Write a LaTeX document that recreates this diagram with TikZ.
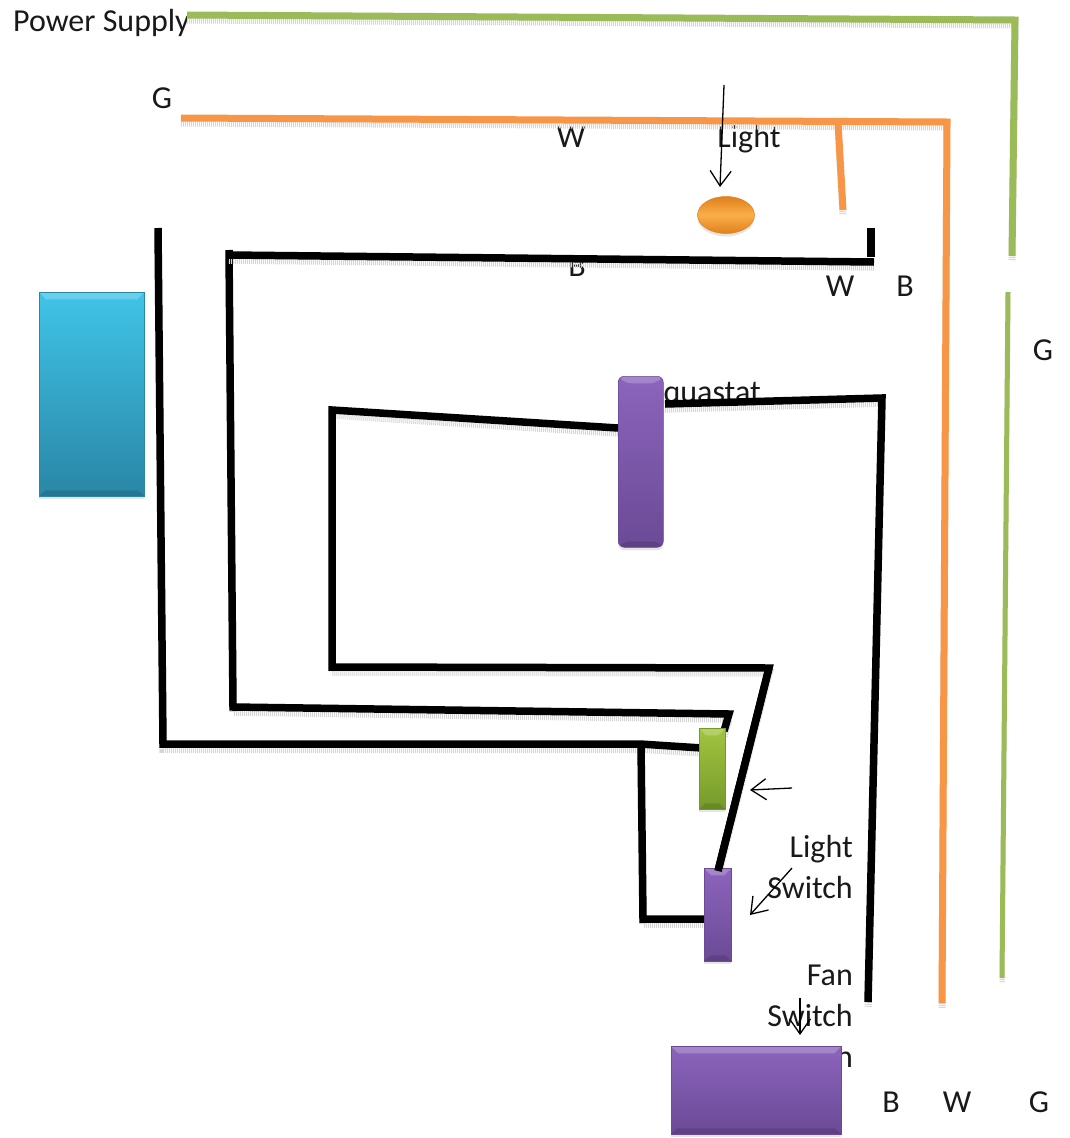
\documentclass[tikz,border=0pt]{standalone}
\usepackage{fontspec}
\setmainfont{Carlito}
\usetikzlibrary{arrows.meta,calc,shapes.geometric}
\definecolor{wgreen}{HTML}{9BBB59}
\definecolor{worange}{HTML}{F79646}
\definecolor{blueT}{HTML}{3FC4E8}
\definecolor{blueB}{HTML}{2A86A6}
\definecolor{purpT}{HTML}{8C64BC}
\definecolor{purpB}{HTML}{6B4A96}
\definecolor{grnT}{HTML}{A2C440}
\definecolor{grnB}{HTML}{769A2A}
\definecolor{ornT}{HTML}{FAAE48}
\definecolor{ornB}{HTML}{E0801C}
\tikzset{
  x=1pt,y=-1pt,
  wire/.style={line width=#1,line join=miter,preaction={draw=black!16,line width=#1,dash pattern=on 1pt off 1pt,transform canvas={yshift=-5pt}}},
  blackwire/.style={wire=7.5pt,draw=black},
  blackstub/.style={line width=7.5pt,draw=black},
  orangewire/.style={wire=7pt,draw=worange},
  greenwire/.style={wire=7pt,draw=wgreen},
  greenthin/.style={wire=5pt,draw=wgreen},
  pointer/.style={draw=black,line width=1.3pt,-{Straight Barb[length=15pt,width=21pt,line width=1.3pt]}},
  lab/.style={font=\fontsize{32}{32}\selectfont,text=black!90,inner sep=0pt,text height=20pt,text depth=6pt},
  multi/.style={font=\fontsize{32}{41}\selectfont,text=black!90,inner sep=0pt,align=right,anchor=east},
  bevelbox/.style 2 args={draw=#2,line width=.5pt,top color=#1,bottom color=#2,inner sep=0pt,anchor=north west,
    preaction={fill=black!10,transform canvas={yshift=-3pt}},
    path picture={
      \fill[white,opacity=.22] (path picture bounding box.north west) -- (path picture bounding box.north east)
        -- ([shift={(-7pt,-7pt)}]path picture bounding box.north east) -- ([shift={(7pt,-7pt)}]path picture bounding box.north west) -- cycle;
      \fill[black,opacity=.12] (path picture bounding box.south west) -- (path picture bounding box.south east)
        -- ([shift={(-6pt,6pt)}]path picture bounding box.south east) -- ([shift={(6pt,6pt)}]path picture bounding box.south west) -- cycle;
    }},
}
\begin{document}
\begin{tikzpicture}
\useasboundingbox (0,0) rectangle (1070,1138);
% labels (behind the shapes)
\node[lab,anchor=west] (tpower) at (13,24) {Power Supply};
\node[lab] (tg1) at (162,101) {G};
\node[lab] (tw1) at (571,140) {W};
\node[lab] (tlight) at (749,140) {Light};
\node[lab] (tb1) at (577,269) {B};
\node[lab] (tw2) at (840,289) {W};
\node[lab] (tb2) at (905,289) {B};
\node[lab] (tg2) at (1043,353) {G};
\node[lab,anchor=east] (taqua) at (761,395) {Aquastat};
\node[multi] (tls) at (853,867) {Light\\Switch};
\node[multi] (tfs) at (853,1016) {Fan\\Switch\\Fan};
\node[lab] (tb3) at (891,1105) {B};
\node[lab] (tw3) at (957,1105) {W};
\node[lab] (tg3) at (1039,1105) {G};
% wire junctions and free ends
\coordinate (g1) at (187,15); \coordinate (g2) at (1015,20); \coordinate (g3) at (1012,256);
\coordinate (g4) at (1008,292); \coordinate (g5) at (1002,978);
\coordinate (o1) at (181,118); \coordinate (o2) at (947,122); \coordinate (o3) at (942,1003);
\coordinate (o4) at (838,122); \coordinate (o5) at (843,210);
\coordinate (a1) at (158,228); \coordinate (a2) at (163,744); \coordinate (a4) at (640,744); \coordinate (a3) at (702,748);
\coordinate (b1) at (229,250); \coordinate (b2) at (233,707); \coordinate (b3) at (729,714); \coordinate (b4) at (724,731);
\coordinate (c1) at (229,255); \coordinate (c2) at (874,262); \coordinate (c3) at (871,228); \coordinate (c4) at (871,257);
\coordinate (d1) at (618,428); \coordinate (d2) at (332,410); \coordinate (d3) at (332,667); \coordinate (d4) at (769,668); \coordinate (d5) at (718,871);
\coordinate (e1) at (665,404); \coordinate (e2) at (882,398); \coordinate (e3) at (868,1002);
\coordinate (f1) at (641,744); \coordinate (f2) at (643,919); \coordinate (f3) at (705,919);
% wires
\draw[greenwire] (g1) -- (g2) -- (g3);
\draw[greenthin] (g4) -- (g5);
\draw[orangewire] (o1) -- (o2) -- (o3);
\draw[orangewire] (o4) -- (o5);
\draw[blackwire] (a1) -- (a2) -- (a4) -- (a3);
\draw[blackwire] (b1) -- (b2) -- (b3) -- (b4);
\draw[blackwire] (c1) -- (c2);
\draw[blackstub] (c3) -- (c4);
\draw[blackwire] (d1) -- (d2) -- (d3) -- (d4) -- (d5);
\draw[blackwire] (e1) -- (e2) -- (e3);
\draw[blackwire] (f1) -- (f2) -- (f3);
% shapes
\node[bevelbox={blueT}{blueB},minimum width=105pt,minimum height=204pt] (heater) at (39,292) {};
\node[bevelbox={purpT}{purpB},minimum width=45pt,minimum height=171pt,rounded corners=6pt] (aqua) at (618,376) {};
\node[bevelbox={grnT}{grnB},minimum width=26pt,minimum height=81pt] (lsw) at (699,728) {};
\node[bevelbox={purpT}{purpB},minimum width=27pt,minimum height=93pt] (fsw) at (704,868) {};
\node[bevelbox={purpT}{purpB},minimum width=170pt,minimum height=88pt] (fan) at (671,1046) {};
\node[ellipse,draw=ornB,line width=.5pt,top color=ornB,bottom color=ornB,middle color=ornT,minimum width=57pt,minimum height=37pt,inner sep=0pt,preaction={fill=black!10,transform canvas={yshift=-3pt}}] (lamp) at (726,215) {};
\draw[blackstub] (d4) -- (d5);
% pointer arrows
\coordinate (p1) at (724,85); \coordinate (p2) at (720,187);
\coordinate (q1) at (792,788); \coordinate (q2) at (750,790);
\coordinate (r1) at (792,868); \coordinate (r2) at (750,915);
\coordinate (s1) at (800,998); \coordinate (s2) at (800,1035);
\draw[pointer] (p1) -- (p2);
\draw[pointer] (q1) -- (q2);
\draw[pointer] (r1) -- (r2);
\draw[pointer] (s1) -- (s2);
\end{tikzpicture}
\end{document}
